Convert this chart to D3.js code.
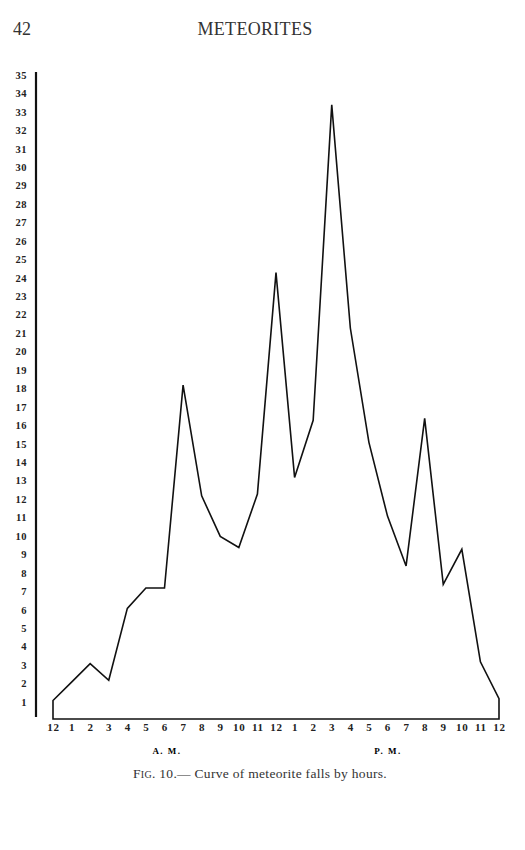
<!DOCTYPE html>
<html>
<head>
<meta charset="utf-8">
<script src="https://cdn.jsdelivr.net/npm/d3@7"></script>
<style>
  body { margin: 0; background: #fff; }
  svg { display: block; }
</style>
</head>
<body>
<div id="chart"></div>
<script>
// hour labels along the bottom (12 midnight .. 12 noon .. 12 midnight)
const hourLabels = ["12", "1", "2", "3", "4", "5", "6", "7", "8", "9", "10", "11",
                    "12", "1", "2", "3", "4", "5", "6", "7", "8", "9", "10", "11", "12"];
// number of meteorite falls at each hour
const falls = [1, 2, 3, 2.1, 6, 7.1, 7.1, 18.1, 12.1, 9.9, 9.3, 12.2,
               24.2, 13.1, 16.2, 33.3, 21.2, 15, 11, 8.3, 16.3, 7.3, 9.2, 3.1, 1.1];
const yTicks = d3.range(1, 36);

function drawCurve() {
    const W = 525, H = 850;
    const svg = d3.select("#chart").append("svg")
        .attr("width", W)
        .attr("height", H);

    // page header
    svg.append("text")
        .attr("x", 13).attr("y", 35)
        .style("font-family", "Liberation Serif, serif")
        .style("font-size", "18px")
        .style("fill", "#333")
        .text("42");
    svg.append("text")
        .attr("x", 255).attr("y", 35)
        .attr("text-anchor", "middle")
        .style("font-family", "Liberation Serif, serif")
        .style("font-size", "18px")
        .style("letter-spacing", "0.3px")
        .style("fill", "#333")
        .text("METEORITES");

    // scales
    const x = d3.scaleLinear().domain([0, 24]).range([53, 499]);
    const y = d3.scaleLinear().domain([0, 35]).range([719, 73.5]);

    // y axis: plain rule with the figures to its left
    const yAxis = svg.append("g")
        .attr("transform", "translate(36,0)")
        .call(d3.axisLeft(y).tickValues(yTicks).tickSize(0).tickPadding(9)
            .tickFormat(d3.format("d")));
    yAxis.select(".domain")
        .attr("stroke", "#111")
        .attr("stroke-width", 2.2)
        .attr("d", `M0,${y(35) - 1.5}V${y(0) - 2}`);
    yAxis.selectAll("text")
        .attr("dy", "0.45em")
        .style("font-family", "Liberation Serif, serif")
        .style("font-weight", "bold")
        .style("font-size", "10.5px")
        .style("letter-spacing", "0.5px")
        .style("fill", "#222");

    // x axis labels only (the baseline is the bottom of the curve)
    const xAxis = svg.append("g")
        .attr("transform", `translate(0,${y(0)})`)
        .call(d3.axisBottom(x).tickValues(d3.range(0, 25)).tickSize(0).tickPadding(4)
            .tickFormat(i => hourLabels[i]));
    xAxis.select(".domain").remove();
    xAxis.selectAll("text")
        .style("font-family", "Liberation Serif, serif")
        .style("font-weight", "bold")
        .style("font-size", "11px")
        .style("letter-spacing", "0.8px")
        .style("fill", "#222");

    // the curve, closed down to the baseline at both ends
    const pts = [[0, 0]].concat(falls.map((v, i) => [i, v]), [[24, 0]]);
    const line = d3.line()
        .x(d => x(d[0]))
        .y(d => y(d[1]));
    svg.append("path")
        .attr("d", line(pts) + "Z")
        .attr("fill", "none")
        .attr("stroke", "#111")
        .attr("stroke-width", 1.6)
        .attr("stroke-linejoin", "miter");

    // A.M. / P.M.
    svg.append("text")
        .attr("x", 167).attr("y", 754)
        .attr("text-anchor", "middle")
        .style("font-family", "Liberation Serif, serif")
        .style("font-weight", "bold")
        .style("font-size", "9px")
        .style("letter-spacing", "1.5px")
        .text("A. M.");
    svg.append("text")
        .attr("x", 388).attr("y", 754)
        .attr("text-anchor", "middle")
        .style("font-family", "Liberation Serif, serif")
        .style("font-weight", "bold")
        .style("font-size", "9px")
        .style("letter-spacing", "1.5px")
        .text("P. M.");

    // caption
    svg.append("text")
        .attr("x", 260).attr("y", 778)
        .attr("text-anchor", "middle")
        .style("font-family", "Liberation Serif, serif")
        .style("font-size", "13.5px")
        .style("fill", "#333")
        .style("letter-spacing", "0.3px")
        .html('F<tspan style="font-size:10px">IG</tspan>. 10.— Curve of meteorite falls by hours.');
}

drawCurve();
</script>
</body>
</html>
